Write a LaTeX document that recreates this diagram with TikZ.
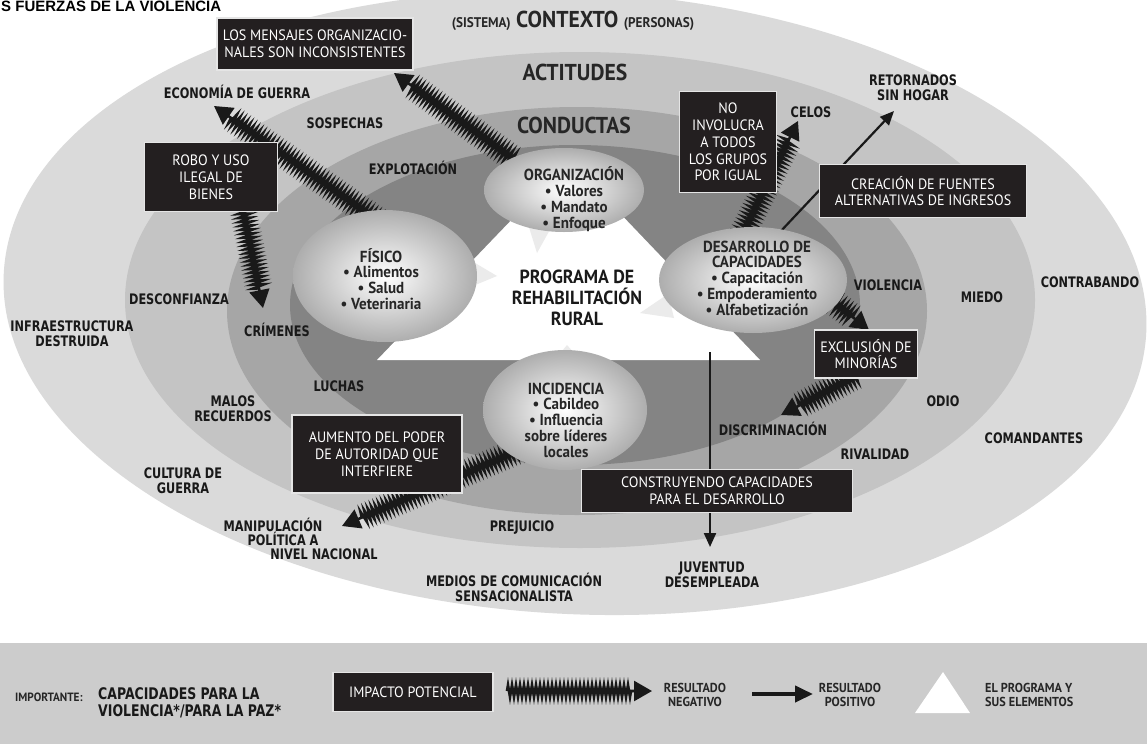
\documentclass[tikz,border=0pt]{standalone}
\usepackage{fontspec}
\setmainfont{PT Sans}[FakeStretch=0.94]
\newfontfamily\comicf{DejaVu Sans}[FakeStretch=0.78]
\newfontfamily\titlef{Liberation Sans}
\usetikzlibrary{shapes.geometric,arrows.meta,decorations.pathmorphing}
\pgfdeclarelayer{bg}
\pgfdeclarelayer{arr}
\pgfsetlayers{bg,arr,main}
\definecolor{ringA}{HTML}{DADADA}
\definecolor{ringB}{HTML}{C4C4C4}
\definecolor{ringC}{HTML}{A6A6A6}
\definecolor{ringD}{HTML}{848484}
\definecolor{legendbg}{HTML}{CCCCCC}
\definecolor{boxblack}{HTML}{231F20}
\begin{document}
\begin{tikzpicture}[x=1pt,y=-1pt,
  blackbox/.style={fill=boxblack, draw=white!80!gray, line width=1.6pt, text=white, align=center, inner sep=0pt, font=\fontsize{15}{16.8}\selectfont},
  comic/.style={font=\comicf\bfseries\fontsize{14.5}{15}\selectfont, align=center, inner sep=0pt, text=black!90},
  bubble/.style={ellipse, inner sep=0pt, shade, shading=radial, inner color=white, outer color=black!32},
  bubtext/.style={font=\bfseries\fontsize{16}{15.8}\selectfont, align=center, inner sep=0pt, text=black!85},
  tailfill/.style={fill=black!8},
  negarrow/.style={draw=black!90, line width=2.6pt, decorate, decoration={zigzag, segment length=4pt, amplitude=6pt, post=lineto, post length=20pt}, -{Triangle[length=18pt,width=20pt]}},
  posarrow/.style={draw=black!90, line width=2.2pt, -{Triangle[length=14pt,width=12pt]}},
  ringtitle/.style={font=\bfseries\fontsize{23}{23}\selectfont, inner sep=0pt, text=black!85},
  legtext/.style={font=\bfseries\fontsize{13}{14}\selectfont, align=center, inner sep=0pt, text=black!85},
]
\useasboundingbox (0,0) rectangle (1147,744);

% ---------- background rings ----------
\begin{pgfonlayer}{bg}
\fill[white] (0,0) rectangle (1147,744);
\fill[ringA, rotate around={-3:(575,303)}] (575,303) ellipse [x radius=572, y radius=311];
\fill[ringB] (580,300) ellipse [x radius=455, y radius=248];
\fill[ringC] (577,311) ellipse [x radius=350, y radius=204];
\fill[ringD] (575,305) ellipse [x radius=285, y radius=160];
\fill[legendbg] (0,643) rectangle (1147,744);
\coordinate (triL) at (377,360);
\coordinate (triT) at (569,160);
\coordinate (triR) at (760,360);
\fill[white] (triL) -- (triT) -- (triR) -- cycle;
\end{pgfonlayer}

% ---------- titles ----------
\node[anchor=base west, inner sep=0pt, font=\titlef\bfseries\fontsize{15}{15}\selectfont] (title) at (1,12) {S FUERZAS DE LA VIOLENCIA};
\node[ringtitle] (ctx) at (573,21) {{\fontsize{14}{14}\selectfont (SISTEMA)} CONTEXTO {\fontsize{14}{14}\selectfont (PERSONAS)}};
\node[ringtitle] (act) at (575,72) {ACTITUDES};
\node[ringtitle] (cond) at (574,125) {CONDUCTAS};

% ---------- bubbles ----------
\fill[tailfill] (470,260) -- (497,276) -- (468,288) -- cycle;
\fill[tailfill] (528,224) -- (537,253) -- (552,226) -- cycle;
\fill[tailfill] (668,294) -- (640,313) -- (674,318) -- cycle;
\fill[tailfill] (553,362) -- (567,345) -- (582,362) -- cycle;
\node[bubble, minimum width=184, minimum height=132] (fis) at (385,276) {};
\node[bubble, minimum width=160, minimum height=84] (org) at (564,190) {};
\node[bubble, minimum width=188, minimum height=106] (des) at (753,280) {};
\node[bubble, minimum width=164, minimum height=120] (inc) at (565,410) {};
\node[bubtext] (fist) at (381,279) {FÍSICO\\• Alimentos\\• Salud\\• Veterinaria};
\node[bubtext] (orgt) at (574,199) {ORGANIZACIÓN\\• Valores\\• Mandato\\• Enfoque};
\node[bubtext] (dest) at (757,278) {DESARROLLO DE\\CAPACIDADES\\• Capacitación\\• Empoderamiento\\• Alfabetización};
\node[bubtext] (inct) at (566,420) {INCIDENCIA\\• Cabildeo\\• Influencia\\sobre líderes\\locales};
\node[font=\bfseries\fontsize{19}{21}\selectfont, align=center, inner sep=0pt, text=black!90] (prog) at (577,298) {PROGRAMA DE\\REHABILITACIÓN\\RURAL};

% ---------- black boxes ----------
\node[blackbox, minimum width=196, minimum height=52] (msg) at (315,44) {LOS MENSAJES ORGANIZACIO-\\NALES SON INCONSISTENTES};
\node[blackbox, minimum width=133, minimum height=69] (robo) at (211,177) {ROBO Y USO\\ILEGAL DE\\BIENES};
\node[blackbox, minimum width=97, minimum height=101] (noinv) at (728,142) {NO\\INVOLUCRA\\A TODOS\\LOS GRUPOS\\POR IGUAL};
\node[blackbox, minimum width=207, minimum height=53] (crea) at (923,191) {CREACIÓN DE FUENTES\\ALTERNATIVAS DE INGRESOS};
\node[blackbox, minimum width=103, minimum height=48] (excl) at (866,354) {EXCLUSIÓN DE\\MINORÍAS};
\node[blackbox, minimum width=170, minimum height=78] (aum) at (377,454) {AUMENTO DEL PODER\\DE AUTORIDAD QUE\\INTERFIERE};
\node[blackbox, minimum width=271, minimum height=43] (cons) at (717,491) {CONSTRUYENDO CAPACIDADES\\PARA EL DESARROLLO};

% ---------- comic labels ----------
\node[comic] (econ) at (237,92) {ECONOMÍA DE GUERRA};
\node[comic] (sosp) at (345,123) {SOSPECHAS};
\node[comic] (expl) at (413,168) {EXPLOTACIÓN};
\node[comic] (desc) at (179,299) {DESCONFIANZA};
\node[comic] (infra) at (72,334) {INFRAESTRUCTURA\\DESTRUIDA};
\node[comic] (crim) at (277,330) {CRÍMENES};
\node[comic] (luch) at (339,386) {LUCHAS};
\node[comic] (malos) at (233,409) {MALOS\\RECUERDOS};
\node[comic] (cult) at (183,481) {CULTURA DE\\GUERRA};
\node[comic] (manA) at (273,525) {MANIPULACIÓN};
\node[comic] (manB) at (283,539) {POLÍTICA A};
\node[comic] (manC) at (324,554) {NIVEL NACIONAL};
\node[comic] (prej) at (522,528) {PREJUICIO};
\node[comic] (medios) at (514,587) {MEDIOS DE COMUNICACIÓN\\SENSACIONALISTA};
\node[comic] (juv) at (712,575) {JUVENTUD\\DESEMPLEADA};
\node[comic] (disc) at (773,429) {DISCRIMINACIÓN};
\node[comic] (riv) at (875,454) {RIVALIDAD};
\node[comic] (odio) at (943,401) {ODIO};
\node[comic] (coman) at (1034,438) {COMANDANTES};
\node[comic] (viol) at (888,285) {VIOLENCIA};
\node[comic] (miedo) at (982,297) {MIEDO};
\node[comic] (contra) at (1090,282) {CONTRABANDO};
\node[comic] (celos) at (811,112) {CELOS};
\node[comic] (ret) at (913,88) {RETORNADOS\\SIN HOGAR};

% ---------- connectors ----------
\coordinate (a1s) at (515,160); \coordinate (a1e) at (394,73);
\coordinate (a2s) at (390,229); \coordinate (a2e) at (214,106);
\coordinate (a3s) at (243,210); \coordinate (a3e) at (263,308);
\coordinate (a4s) at (742,235); \coordinate (a4e) at (798,121);
\coordinate (a5s) at (780,232); \coordinate (a5e) at (894,111);
\coordinate (a6s) at (826,296); \coordinate (a6e) at (869,330);
\coordinate (a7s) at (856,376); \coordinate (a7e) at (781,415);
\coordinate (a8s) at (520,450); \coordinate (a8e) at (342,526);
\coordinate (a9s) at (710,352); \coordinate (a9e) at (710,547);
\begin{pgfonlayer}{arr}
\draw[negarrow] (a1s) -- (a1e);
\draw[negarrow] (a2s) -- (a2e);
\draw[negarrow] (a3s) -- (a3e);
\draw[negarrow] (a4s) -- (a4e);
\draw[posarrow] (a5s) -- (a5e);
\draw[negarrow] (a6s) -- (a6e);
\draw[negarrow] (a7s) -- (a7e);
\draw[negarrow] (a8s) -- (a8e);
\draw[posarrow] (a9s) -- (a9e);
\end{pgfonlayer}

% ---------- legend ----------
\node[anchor=west, inner sep=0pt, font=\bfseries\fontsize{12}{13}\selectfont, text=black!85] (impt) at (15,697) {IMPORTANTE:};
\node[comic, font=\comicf\bfseries\fontsize{16}{17}\selectfont, align=left, anchor=west] (capac) at (98,703) {CAPACIDADES PARA LA\\VIOLENCIA*/PARA LA PAZ*};
\node[blackbox, minimum width=160, minimum height=39] (imp) at (413,692) {IMPACTO POTENCIAL};
\coordinate (lns) at (507,691); \coordinate (lne) at (652,691);
\draw[negarrow] (lns) -- (lne);
\node[legtext] (lneg) at (695,695) {RESULTADO\\NEGATIVO};
\coordinate (lps) at (752,694); \coordinate (lpe) at (813,694);
\draw[draw=black!90, line width=4pt, -{Triangle[length=18pt,width=16pt]}] (lps) -- (lpe);
\node[legtext] (lpos) at (850,695) {RESULTADO\\POSITIVO};
\coordinate (ltl) at (915,713); \coordinate (ltt) at (943,672); \coordinate (ltr) at (970,713);
\fill[white] (ltl) -- (ltt) -- (ltr) -- cycle;
\node[legtext, align=left, anchor=west] (lprog) at (985,695) {EL PROGRAMA Y\\SUS ELEMENTOS};
\end{tikzpicture}
\end{document}
